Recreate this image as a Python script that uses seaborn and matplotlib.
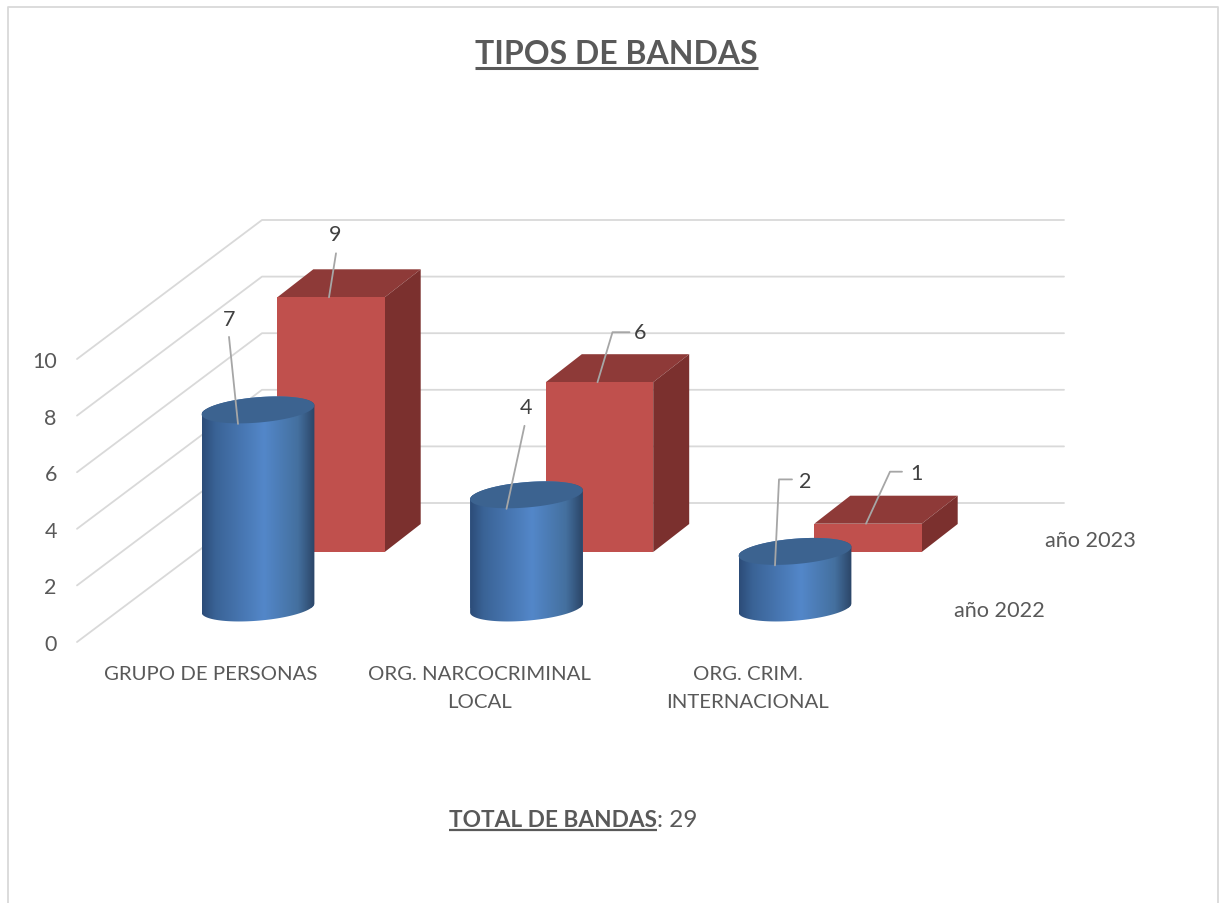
import numpy as np
import pandas as pd
import seaborn as sns
import matplotlib
matplotlib.use("Agg")
import matplotlib.pyplot as plt
from matplotlib.colors import LinearSegmentedColormap
from matplotlib.lines import Line2D
from matplotlib.patches import Polygon

# data
categorias = ["GRUPO DE PERSONAS", "ORG. NARCOCRIMINAL\nLOCAL", "ORG. CRIM.\nINTERNACIONAL"]
valores_2022 = [7, 4, 2]
valores_2023 = [9, 6, 1]
ticks_y = [0, 2, 4, 6, 8, 10]
total = 29

# layout in image pixels
W, H = 1227, 904
PASO_X = 268.5   # px between categories
PX_Y = 28.3      # px per unit of value
GRIS_TXT = "#595959"
GRIS_NUM = "#404040"
GRIS_LINEA = "#a6a6a6"
GRIS_GRID = "#d9d9d9"

sns.set_theme(style="white")
plt.rcParams["font.family"] = ["Lato", "DejaVu Sans"]

fig = plt.figure(figsize=(W / 100, H / 100), dpi=100, facecolor="white")


def ejes(izq, der, arriba, abajo):
    ax = fig.add_axes([izq / W, 1 - abajo / H, (der - izq) / W, (abajo - arriba) / H])
    ax.patch.set_alpha(0)
    sns.despine(ax=ax, left=True, bottom=True)
    return ax


def ajustar(ax, centro_px, base_px, abajo):
    # category 0 sits at centro_px, value 0 sits at base_px
    ax.set_xlim(-centro_px / PASO_X, (W - centro_px) / PASO_X)
    ax.set_ylim((base_px - abajo) / PX_Y, base_px / PX_Y)
    ax.set_xlabel("")
    ax.set_ylabel("")


# back wall and floor lines
ax_pared = ejes(77, 1064, 200, 643)
ax_pared.set_xlim(0, 987)
ax_pared.set_ylim(0, 443 / PX_Y)
fondo = 139 / PX_Y
for v in ticks_y:
    ax_pared.plot([0, 185, 987], [v, v + fondo, v + fondo], color=GRIS_GRID, lw=1.3, clip_on=False)
ax_pared.set_xticks([])
ax_pared.set_yticks(ticks_y)
ax_pared.set_yticklabels([str(t) for t in ticks_y], fontsize=15.5, color=GRIS_TXT)
ax_pared.tick_params(axis="y", length=0, pad=14.5)

# 2023 boxes
df_2023 = pd.DataFrame({"categoria": categorias, "valor": valores_2023})
ax_rojo = ejes(0, W, 0, H)
sns.barplot(data=df_2023, x="categoria", y="valor", color="#c0504d", saturation=1, width=0.4,
            linewidth=0, ax=ax_rojo, zorder=3)
ajustar(ax_rojo, 331, 553, H)
ax_rojo.set_xticks([])
ax_rojo.set_yticks([])
dx, dy = 36 / PASO_X, 28 / PX_Y
for b in list(ax_rojo.containers[0]):
    x0, w, h = b.get_x(), b.get_width(), b.get_height()
    ax_rojo.add_patch(Polygon([(x0, h), (x0 + w, h), (x0 + w + dx, h + dy), (x0 + dx, h + dy)], color="#8e3a38", lw=0, zorder=2))
    ax_rojo.add_patch(Polygon([(x0 + w, 0), (x0 + w + dx, dy), (x0 + w + dx, h + dy), (x0 + w, h)], color="#7b302e", lw=0, zorder=2))

# 2022 cylinders
df_2022 = pd.DataFrame({"categoria": categorias, "valor": valores_2022})
ax_azul = ejes(0, W, 0, 640)
sns.barplot(data=df_2022, x="categoria", y="valor", color="#4f81bd", saturation=1, width=0.42,
            linewidth=0, ax=ax_azul, zorder=2)
cmap = LinearSegmentedColormap.from_list("cil", [(0, "#2c4c78"), (0.12, "#3a6396"), (0.55, "#5387c9"), (0.85, "#44709f"), (1, "#2b4567")])
degradado = np.linspace(0, 1, 256).reshape(1, -1)
for b in list(ax_azul.containers[0]):
    x0, w, h = b.get_x(), b.get_width(), b.get_height()
    cx = x0 + w / 2

    def elipse(y, t):
        return np.column_stack([cx + w / 2 * np.cos(t), y + (4.5 * np.cos(t) + 12.7 * np.sin(t)) / PX_Y])

    abajo = elipse(0, np.linspace(np.pi, 2 * np.pi, 60))
    arriba = elipse(h, np.linspace(0, np.pi, 60))
    silueta = Polygon(np.vstack([abajo, arriba]), transform=ax_azul.transData)
    b.set_clip_path(silueta)
    im = ax_azul.imshow(degradado, cmap=cmap, aspect="auto", extent=(x0, x0 + w, -1, h + 1), zorder=3)
    im.set_clip_path(silueta)
    ax_azul.add_patch(Polygon(elipse(h, np.linspace(0, 2 * np.pi, 120)), color="#3c6390", lw=0, zorder=4))
ajustar(ax_azul, 258, 609, 640)
ax_azul.set_yticks([])
ax_azul.set_xticks(np.arange(len(categorias)) - 47 / PASO_X)
ax_azul.set_xticklabels(categorias, fontsize=14.7, color=GRIS_TXT, linespacing=1.78)
ax_azul.tick_params(axis="x", length=0, pad=19)


# data labels with leader lines, offsets in px from the anchor on each mark
def etiqueta(ax, x, y, valor, linea, texto):
    xs = [x] + [x + p[0] / PASO_X for p in linea]
    ys = [y] + [y + p[1] / PX_Y for p in linea]
    ax.plot(xs, ys, color=GRIS_LINEA, lw=1.3, zorder=6, clip_on=False)
    ax.text(x + texto[0] / PASO_X, y + texto[1] / PX_Y, str(valor), ha="center", va="center",
            fontsize=15.5, color=GRIS_NUM, zorder=7)


lineas_2023 = [[(7, 44)], [(15, 50), (32, 50)], [(24, 52), (36, 52)]]
textos_2023 = [(6, 63), (43, 50), (50, 51)]
lineas_2022 = [[(-9, 87)], [(18, 83)], [(4, 86), (17, 86)]]
textos_2022 = [(-9, 105), (20, 102), (30, 84)]
for i, v in enumerate(valores_2023):
    etiqueta(ax_rojo, i - 2 / PASO_X, v, v, lineas_2023[i], textos_2023[i])
for i, v in enumerate(valores_2022):
    etiqueta(ax_azul, i - 20 / PASO_X, v - 14 / PX_Y, v, lineas_2022[i], textos_2022[i])
ajustar(ax_rojo, 331, 553, H)
ajustar(ax_azul, 258, 609, 640)


# text outside the plot
def fx(x):
    return x / W


def fy(y):
    return 1 - y / H


fig.text(fx(1090.5), fy(541), "año 2023", ha="center", va="center", fontsize=15.6, color=GRIS_TXT)
fig.text(fx(999), fy(611), "año 2022", ha="center", va="center", fontsize=15.6, color=GRIS_TXT)

render = fig.canvas.get_renderer()


def subrayar(t, y, grosor):
    caja = t.get_window_extent(render)
    fig.add_artist(Line2D([caja.x0 / W, caja.x1 / W], [fy(y), fy(y)], transform=fig.transFigure,
                          color=GRIS_TXT, lw=grosor, solid_capstyle="butt"))
    return caja


titulo = fig.text(fx(616.5), fy(54), "TIPOS DE BANDAS", ha="center", va="center", fontsize=23, fontweight="bold", color=GRIS_TXT)
subrayar(titulo, 68.5, 2.2)

pie = fig.text(fx(449), fy(821), "TOTAL DE BANDAS", ha="left", va="center", fontsize=16.3, fontweight="bold", color=GRIS_TXT)
caja = subrayar(pie, 830.5, 1.6)
fig.text(caja.x1 / W, fy(821), ": " + str(total), ha="left", va="center", fontsize=17.5, color=GRIS_TXT)

# frame of the slide, it runs off the bottom edge
fig.add_artist(Line2D([fx(8), fx(8), fx(1218), fx(1218)], [0, fy(8), fy(8), 0], transform=fig.transFigure,
                      color=GRIS_GRID, lw=1.3))

fig.savefig("out.png", dpi=100)
